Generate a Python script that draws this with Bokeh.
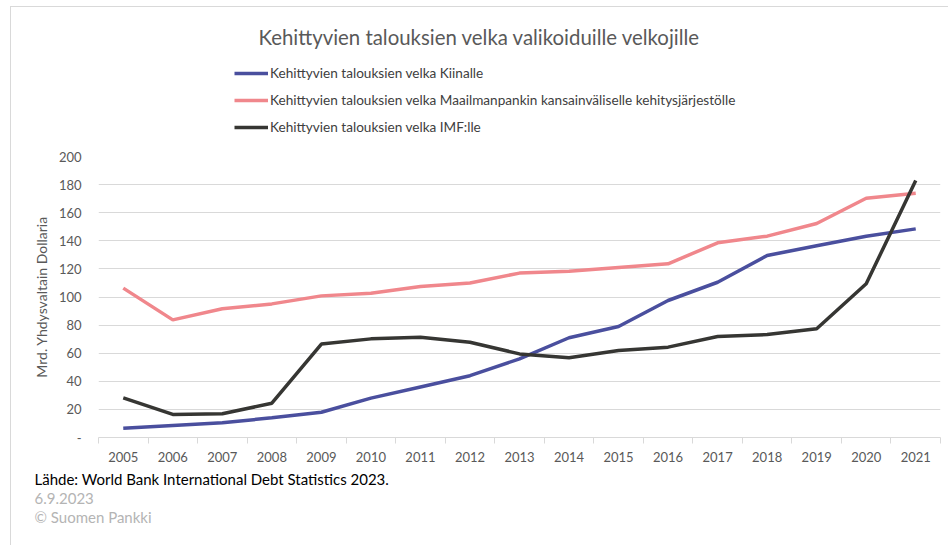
from bokeh.plotting import figure
from bokeh.layouts import column
from bokeh.models import (Range1d, FixedTicker, Legend, LegendItem, Label)
from bokeh.embed import file_html
from bokeh.resources import INLINE

years = list(range(2005, 2022))
china = [6.5, 8.5, 10.5, 14, 18, 28, 36, 44, 56, 71, 79, 97.5, 110.5, 129.5, 136.5, 143.3, 148.5]
world_bank = [106.3, 83.7, 91.6, 95.1, 100.8, 102.7, 107.5, 110, 117, 118.4, 121, 123.6, 138.6, 143.3, 152.3, 170.3, 173.9]
imf = [28.2, 16.4, 16.9, 24.4, 66.5, 70.2, 71.4, 67.8, 59.5, 56.7, 61.9, 64.3, 71.9, 73.3, 77.4, 109.4, 182.9]
y_ticks = [0, 20, 40, 60, 80, 100, 120, 140, 160, 180, 200]

title_text = "Kehittyvien talouksien velka valikoiduille velkojille"
names = ["Kehittyvien talouksien velka Kiinalle",
         "Kehittyvien talouksien velka Maailmanpankin kansainväliselle kehitysjärjestölle",
         "Kehittyvien talouksien velka IMF:lle"]
footer = ["Lähde: World Bank International Debt Statistics 2023.", "6.9.2023", "© Suomen Pankki"]
colors = ["#4a4f9e", "#f0878c", "#363633"]
footer_colors = ["#000000", "#b4b4b4", "#b4b4b4"]
series = [china, world_bank, imf]

FONT = "Lato"
OX, OY = 10, 6                      # page offset of the chart box
W = 948 - OX
TOP_H, MAIN_TOP, MAIN_BOT = 134, 140, 470
FL, FR, FT, FB = 97.5, 938.5, 156, 437   # plot frame in window pixels
BORDER = "1px solid #d9d9d9"


def blank(height, y0, y1, styles):
    f = figure(width=W, height=height, output_backend="svg", toolbar_location=None,
               x_range=Range1d(OX, 948), y_range=Range1d(y1, y0),
               x_axis_location=None, y_axis_location=None, min_border=0,
               margin=0, styles=styles, frame_align=False)
    f.min_border_left = f.min_border_right = f.min_border_top = f.min_border_bottom = 0
    f.grid.visible = False
    f.outline_line_color = None
    return f


# ---- header: title + legend
top = blank(TOP_H, OY, MAIN_TOP, {"border-top": BORDER, "border-left": BORDER})
top.add_layout(Label(x=478, y=35, text=title_text, text_align="center", text_baseline="middle",
                     text_font=FONT, text_font_size="20.4px", text_color="#595959"))

# ---- main chart
p = figure(width=W, height=MAIN_BOT - MAIN_TOP, output_backend="svg", toolbar_location=None,
           x_range=Range1d(2004.5, 2021.5), y_range=Range1d(0, 200),
           min_border_left=int(FL - OX), min_border_right=int(948 - FR),
           min_border_top=int(FT - MAIN_TOP), min_border_bottom=int(MAIN_BOT - FB),
           margin=0, styles={"border-left": BORDER}, frame_align=False)
p.outline_line_color = None
p.xgrid.grid_line_color = None
p.ygrid.grid_line_color = "#d9d9d9"
p.ygrid.grid_line_width = 1

p.xaxis.ticker = FixedTicker(ticks=years, minor_ticks=[y - 0.5 for y in years] + [years[-1] + 0.5])
p.xaxis.major_tick_line_color = None
p.xaxis.minor_tick_line_color = "#d9d9d9"
p.xaxis.minor_tick_out = 6
p.xaxis.minor_tick_in = 0
p.xaxis.axis_line_color = "#d9d9d9"
p.xaxis.major_label_text_font = FONT
p.xaxis.major_label_text_font_size = "13px"
p.xaxis.major_label_text_color = "#595959"
p.xaxis.major_label_standoff = 8

p.yaxis.ticker = FixedTicker(ticks=y_ticks)
p.yaxis.major_label_overrides = {0: "-"}
p.yaxis.axis_line_color = None
p.yaxis.major_tick_line_color = None
p.yaxis.minor_tick_line_color = None
p.yaxis.major_label_text_font = FONT
p.yaxis.major_label_text_font_size = "13px"
p.yaxis.major_label_text_color = "#595959"
p.yaxis.major_label_standoff = 11
p.yaxis.axis_label = "Mrd. Yhdysvaltain Dollaria"
p.yaxis.axis_label_text_font = FONT
p.yaxis.axis_label_text_font_style = "normal"
p.yaxis.axis_label_text_font_size = "14px"
p.yaxis.axis_label_text_color = "#595959"
p.yaxis.axis_label_standoff = 6

for vals, c in zip(series, colors):
    p.line(years, vals, line_color=c, line_width=3.5)

# legend lives in the header; its sample renderers use the same series (drawn off-range there)
samples = [top.line(years, vals, line_color=c, line_width=3.5) for vals, c in zip(series, colors)]
legend = Legend(items=[LegendItem(label=n, renderers=[r]) for n, r in zip(names, samples)],
                location=(233 - OX, MAIN_TOP - 135.5), orientation="vertical",
                margin=0, padding=0, spacing=7, glyph_width=34, glyph_height=20,
                label_height=20, label_standoff=2,
                label_text_font=FONT, label_text_font_size="13.6px",
                label_text_color="#404040", border_line_color=None,
                background_fill_alpha=0)
top.add_layout(legend, "center")

# ---- footer
bottom = blank(545 - MAIN_BOT, MAIN_BOT, 545, {"border-left": BORDER})
for t, c, yy in zip(footer, footer_colors, [478.5, 497.5, 516.5]):
    bottom.add_layout(Label(x=33, y=yy, text=t, text_align="left", text_baseline="middle",
                            text_font=FONT, text_font_size="15px", text_color=c))

layout = column(top, p, bottom, margin=(OY, 0, 0, OX), spacing=0)
open("out.html", "w").write(file_html(layout, INLINE))
